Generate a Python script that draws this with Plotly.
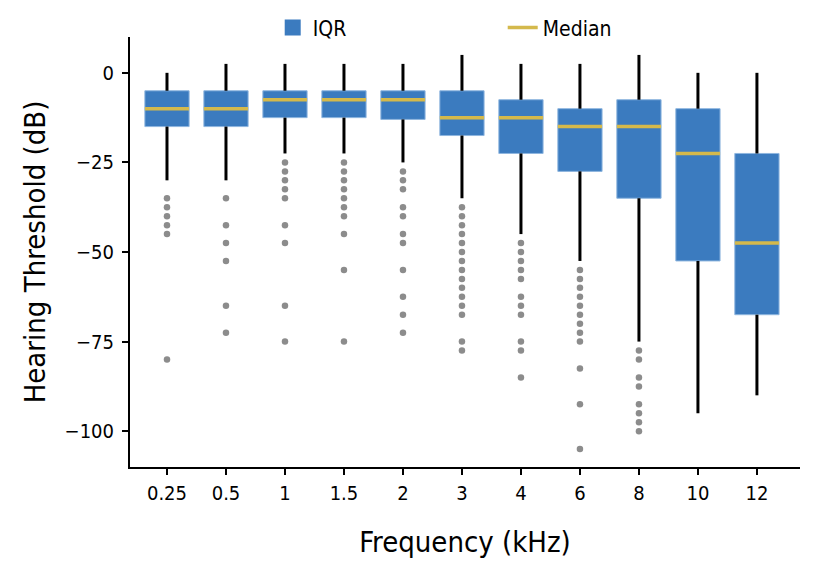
import plotly.graph_objects as go

# hearing threshold by frequency (dB)
freqs = ["0.25", "0.5", "1", "1.5", "2", "3", "4", "6", "8", "10", "12"]
upper = [0, 2.5, 2.5, 2.5, 2.5, 5, 2.5, 2.5, 5, 0, 0]
q3 = [-5, -5, -5, -5, -5, -5, -7.5, -10, -7.5, -10, -22.5]
median = [-10, -10, -7.5, -7.5, -7.5, -12.5, -12.5, -15, -15, -22.5, -47.5]
q1 = [-15, -15, -12.5, -12.5, -13, -17.5, -22.5, -27.5, -35, -52.5, -67.5]
lower = [-30, -30, -22.5, -22.5, -25, -35, -45, -52.5, -75, -95, -90]

outliers = [
    [-35, -37.5, -40, -42.5, -45, -80],
    [-35, -42.5, -47.5, -52.5, -65, -72.5],
    [-25, -27.5, -30, -32.5, -35, -42.5, -47.5, -65, -75],
    [-25, -27.5, -30, -32.5, -35, -37.5, -40, -45, -55, -75],
    [-27.5, -30, -32.5, -37.5, -40, -45, -47.5, -55, -62.5, -67.5, -72.5],
    [-37.5, -40, -42.5, -45, -47.5, -50, -52.5, -55, -57.5, -60, -62.5, -65,
     -67.5, -75, -77.5],
    [-47.5, -50, -52.5, -55, -57.5, -62.5, -65, -67.5, -75, -77.5, -85],
    [-55, -57.5, -60, -62.5, -65, -67.5, -70, -72.5, -75, -82.5, -92.5, -105],
    [-77.5, -80, -85, -87.5, -92.5, -95, -97.5, -100],
    [],
    [],
]

BLUE = '#3b7bbf'
GOLD = '#d4b94c'
FONT = 'Liberation Sans Narrow, DejaVu Sans Condensed, Arial Narrow, sans-serif'
W = 0.75  # box width in category units

pos = list(range(len(freqs)))

# whiskers: split at the box so they don't cross it
wx, wy = [], []
for i in pos:
    wx += [i, i, None, i, i, None]
    wy += [upper[i], q3[i], None, q1[i], lower[i], None]

mx, my = [], []
for i in pos:
    mx += [i - W / 2, i + W / 2, None]
    my += [median[i], median[i], None]

ox, oy = [], []
for i in pos:
    ox += [i] * len(outliers[i])
    oy += outliers[i]

fig = go.Figure()
fig.add_trace(go.Bar(
    x=pos, y=[a - b for a, b in zip(q3, q1)], base=q1, width=W,
    marker=dict(color=BLUE, line=dict(color='#8fb6df', width=1)),
    showlegend=False, hoverinfo='skip',
))
# legend swatch for the boxes (bigger square than the bar default)
fig.add_trace(go.Scatter(
    x=[None], y=[None], mode='markers', name='IQR',
    marker=dict(symbol='square', size=16, color=BLUE),
))
fig.add_trace(go.Scatter(
    x=wx, y=wy, mode='lines', line=dict(color='black', width=3),
    showlegend=False, hoverinfo='skip',
))
fig.add_trace(go.Scatter(
    x=mx, y=my, mode='lines', line=dict(color=GOLD, width=3.5),
    name='Median', hoverinfo='skip',
))
fig.add_trace(go.Scatter(
    x=ox, y=oy, mode='markers',
    marker=dict(color='#8c8c8c', size=6.5),
    showlegend=False, hoverinfo='skip',
))

# page body adds an 8px offset, margins below account for it
fig.update_layout(
    width=815, height=578,
    margin=dict(l=122, r=23, t=29, b=119, autoexpand=False),
    paper_bgcolor='white', plot_bgcolor='white',
    font=dict(family=FONT, color='black', size=20),
    showlegend=True,
    legend=dict(
        orientation='h', x=0.213, xanchor='left', y=1.021, yanchor='middle',
        entrywidth=185, entrywidthmode='pixels',
        font=dict(family=FONT, size=21), bgcolor='rgba(0,0,0,0)',
    ),
    xaxis=dict(
        range=[-0.627, 10.73], tickmode='array', tickvals=pos, ticktext=freqs,
        showgrid=False, zeroline=False, showline=True, linecolor='black',
        linewidth=2, ticks='outside', ticklen=6, tickwidth=2, tickcolor='black',
        ticklabelstandoff=1, automargin=False,
        title=dict(text='Frequency (kHz)', font=dict(size=29), standoff=28),
    ),
    yaxis=dict(
        range=[-110, 10], tickvals=[0, -25, -50, -75, -100],
        showgrid=False, zeroline=False, showline=True, linecolor='black',
        linewidth=2, ticks='outside', ticklen=6, tickwidth=2, tickcolor='black',
        ticklabelstandoff=4, automargin=False,
        title=dict(text='Hearing Threshold (dB)', font=dict(size=29), standoff=10),
    ),
)

fig.write_html("out.html")
